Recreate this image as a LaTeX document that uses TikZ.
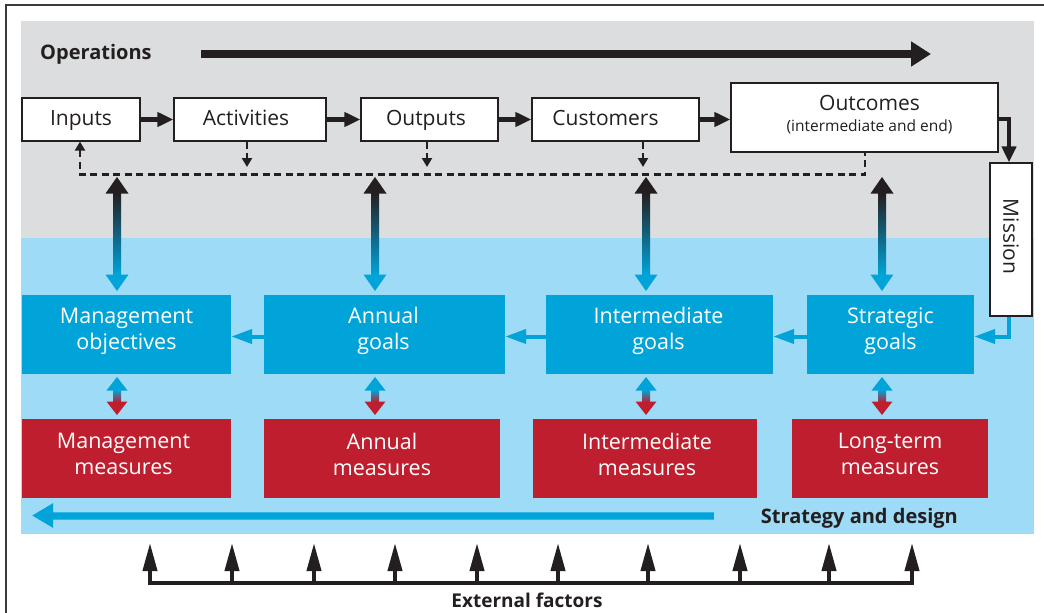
\documentclass[tikz,border=0pt]{standalone}
\usepackage{fontspec}
\setmainfont{Open Sans}
\usetikzlibrary{arrows.meta,calc}
\definecolor{ink}{HTML}{231F20}
\definecolor{opgray}{HTML}{DCDDDE}
\definecolor{lblue}{HTML}{9DDBF6}
\definecolor{sblue}{HTML}{00A4D9}
\definecolor{sred}{HTML}{BE1E2D}
\definecolor{framec}{HTML}{3A3A3A}
% vertical double arrow: #1 top point, #2 bottom point, #3 top colour, #4 bottom colour,
% #5 shaft half width, #6 head half width, #7 head length (numbers, in pt)
\newcommand\vdouble[7]{%
  \fill[#3] (#1) -- ++(#6pt,-#7pt) -- ++(-2*#6pt,0pt) -- cycle;
  \fill[#4] (#2) -- ++(#6pt,#7pt) -- ++(-2*#6pt,0pt) -- cycle;
  \shade[top color=#3,bottom color=#4] ($(#1)+(-#5pt,-#7pt+0.4pt)$) rectangle ($(#2)+(#5pt,#7pt-0.4pt)$);}
\begin{document}
\begin{tikzpicture}[x=1pt,y=-1pt,
  opbox/.style={draw=ink,line width=1.2pt,fill=white,inner sep=0pt,text=ink,
    font=\fontsize{21}{24}\selectfont,text height=15pt,text depth=3pt},
  goalbox/.style={fill=sblue,inner sep=0pt,minimum height=79pt},
  measbox/.style={fill=sred,inner sep=0pt,minimum height=79pt},
  boxtxt/.style={text=white,align=center,inner sep=0pt,font=\fontsize{21.5}{26}\selectfont},
  flow/.style={draw=ink,line width=4.5pt,-{Triangle[length=16pt,width=14pt]}},
  bflow/.style={draw=sblue,line width=4pt,-{Triangle[length=21pt,width=14pt]}},
  dsh/.style={draw=ink,line width=2.2pt,dash pattern=on 7pt off 4.5pt},
  dtip/.style={-{Triangle[length=9pt,width=10pt]}},
  ext/.style={draw=ink,line width=4pt,-{Triangle[length=28pt,width=14pt]}},
  title/.style={text=ink,inner sep=0pt,font=\bfseries\fontsize{20}{24}\selectfont},
]
\useasboundingbox (0,0) rectangle (1044,613);
\fill[white] (0,0) rectangle (1044,613);
% frame and zones
\draw[framec,line width=2.2pt] (6,613) -- (6,5) -- (1044,5);
\fill[opgray] (21,21) rectangle (1034,238);
\fill[lblue] (21,238) rectangle (1034,534);

% operations
\node[title,anchor=west] (ops) at (40,54) {Operations};
\coordinate (opsS) at (201,54);
\coordinate (opsE) at (931,54);
\draw[ink,line width=8pt,-{Triangle[length=20pt,width=24pt]}] (opsS) -- (opsE);

% top row
\node[opbox,minimum width=118pt,minimum height=43pt] (inputs) at (81,119.5) {Inputs};
\node[opbox,minimum width=152pt,minimum height=43pt] (activities) at (250,119.5) {Activities\kern8pt};
\node[opbox,minimum width=137pt,minimum height=43pt] (outputs) at (429.5,119.5) {Outputs\kern7pt};
\node[opbox,minimum width=167pt,minimum height=43pt] (customers) at (615.5,119.5) {Customers\kern20pt};
\node[opbox,minimum width=267pt,minimum height=69pt] (outcomes) at (864.5,117.5) {};
\node[text=ink,inner sep=0pt,align=center,font=\fontsize{21}{24}\selectfont] (outcomestxt) at ([xshift=5pt,yshift=3pt]outcomes)
  {Outcomes\\[-3pt]{\fontsize{15.5}{19}\selectfont (intermediate and end)}};
\node[opbox,minimum width=42pt,minimum height=153pt] (mission) at (1011,239.5) {};
\node[rotate=-90,text=ink,font=\fontsize{21}{24}\selectfont] (missiontxt) at ([yshift=3pt]mission) {Mission};

\draw[flow] (inputs) -- (activities);
\draw[flow] (activities) -- (outputs);
\draw[flow] (outputs) -- (customers);
\draw[flow] (customers) -- (outcomes.west |- customers);
\draw[flow] ([yshift=-1.5pt]outcomes.east) -| ([xshift=-2pt]mission.north);

% dashed feedback
\coordinate (dL) at (80,174.5);
\coordinate (dR) at (865,174.5);
\draw[dsh,{Triangle[length=9pt,width=10pt]}-] (dL |- inputs.south) -- (dL) -- (dR) -- (dR |- outcomes.south);
\coordinate (dA) at (247,167);
\coordinate (dO) at (427,167);
\coordinate (dC) at (643,167);
\draw[dsh,dtip] (dA |- activities.south) -- (dA);
\draw[dsh,dtip] (dO |- outputs.south) -- (dO);
\draw[dsh,dtip] (dC |- customers.south) -- (dC);

% goals
\node[goalbox,minimum width=209pt] (mo) at (126.5,334.5) {};
\node[goalbox,minimum width=241pt] (ag) at (384.5,334.5) {};
\node[goalbox,minimum width=227pt] (ig) at (659.5,334.5) {};
\node[goalbox,minimum width=167pt] (sg) at (890.5,334.5) {};
\node[boxtxt] (mot) at ([yshift=3.5pt]mo) {Management\\objectives};
\node[boxtxt] (agt) at ([yshift=3.5pt,xshift=-1pt]ag) {Annual\\goals};
\node[boxtxt] (igt) at ([yshift=3.5pt,xshift=-1pt]ig) {Intermediate\\goals};
\node[boxtxt] (sgt) at ([yshift=3.5pt]sg) {Strategic\\goals};

\draw[bflow] ([yshift=-2pt]ag.west) -- ([yshift=-2pt]mo.east);
\draw[bflow] ([yshift=-2pt]ig.west) -- ([yshift=-2pt]ag.east);
\draw[bflow] ([yshift=-2pt]sg.west) -- ([yshift=-2pt]ig.east);
\draw[bflow] ([xshift=-2pt]mission.south) |- ([yshift=-2pt]sg.east);

% measures
\node[measbox,minimum width=209pt] (mm) at (126.5,458.5) {};
\node[measbox,minimum width=236pt] (am) at (382,458.5) {};
\node[measbox,minimum width=224pt] (im) at (645,458.5) {};
\node[measbox,minimum width=196pt] (lm) at (890,458.5) {};
\node[boxtxt] (mmt) at ([yshift=4.5pt,xshift=-3pt]mm) {Management\\measures};
\node[boxtxt] (amt) at ([yshift=4.5pt]am) {Annual\\measures};
\node[boxtxt] (imt) at ([yshift=4.5pt,xshift=2pt]im) {Intermediate\\measures};
\node[boxtxt] (lmt) at ([yshift=4.5pt]lm) {Long-term\\measures};

% gradient double arrows operations <-> goals, goals <-> measures
\foreach \i/\x in {1/117,2/375,3/646,4/882}{
  \coordinate (gt\i) at (\x,177);
  \coordinate (gb\i) at (\x,291);
  \coordinate (mt\i) at (\x,377);
  \coordinate (mb\i) at (\x,415);
}
\foreach \i in {1,2,3,4}{
  \vdouble{gt\i}{gb\i}{ink}{sblue}{4}{11.5}{16.5}
  \vdouble{mt\i}{mb\i}{sblue}{sred}{4}{10.5}{13.5}
}

% strategy arrow
\coordinate (sS) at (714,515.5);
\coordinate (sE) at (32,515.5);
\draw[sblue!80!white,line width=8pt] (sS) -- ([xshift=20pt]sE);
\draw[sblue,line width=6pt,-{Triangle[length=21pt,width=23pt]}] (sS) -- (sE);
\node[title,anchor=east] (strat) at (958,518) {Strategy and design};

% external factors
\foreach \i/\x in {1/150,2/232,3/314,4/395,5/477,6/558,7/648,8/740,9/829,10/912}{
  \coordinate (et\i) at (\x,543);
  \coordinate (eb\i) at (\x,583);
}
\draw[ext,{Triangle[length=28pt,width=14pt]}-{Triangle[length=28pt,width=14pt]},line join=miter]
  (et1) -- (eb1) -- (eb10) -- (et10);
\foreach \i in {2,...,9}{ \draw[ext] (eb\i) -- (et\i); }
\node[title,font=\bfseries\fontsize{19}{22}\selectfont] (extf) at (527,600) {External factors};
\end{tikzpicture}
\end{document}
